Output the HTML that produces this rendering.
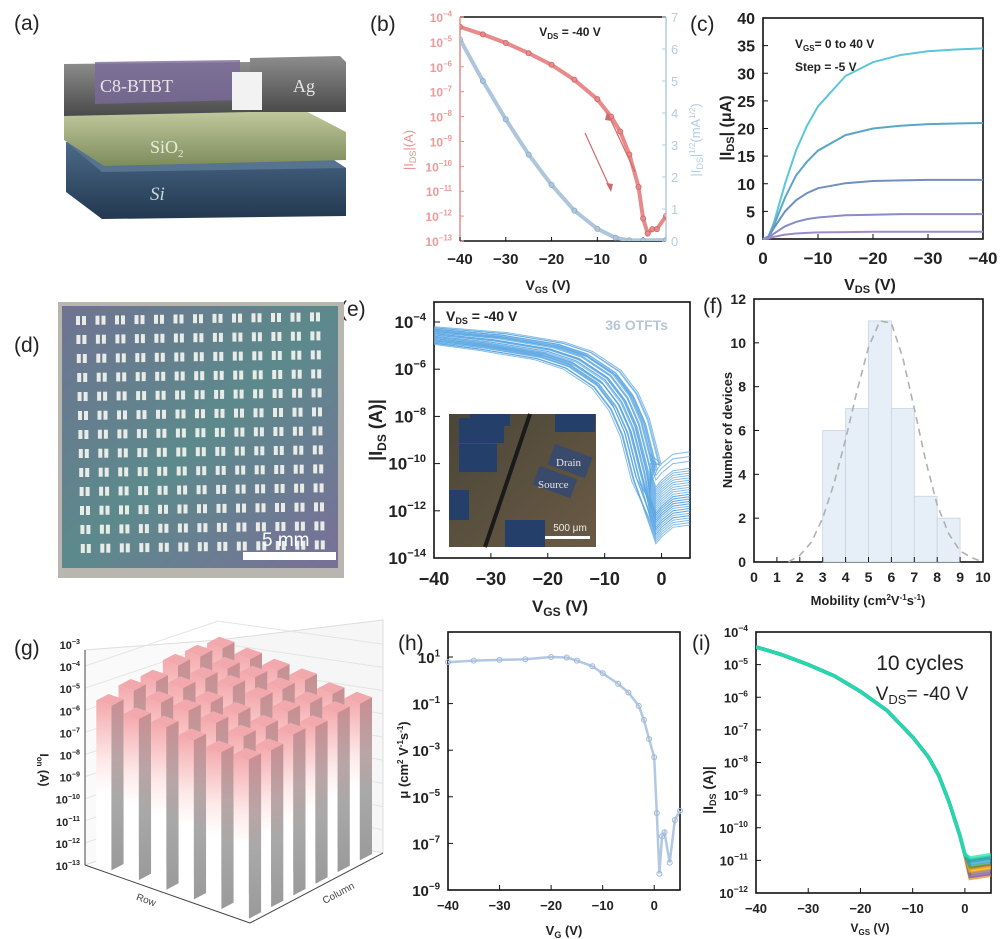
<!DOCTYPE html>
<html><head><meta charset="utf-8">
<style>
html,body{margin:0;padding:0;background:#fff;}
svg{display:block;font-family:"Liberation Sans",Arial,sans-serif;}
</style></head>
<body>
<svg id="fig" width="1000" height="939" viewBox="0 0 1000 939" xmlns="http://www.w3.org/2000/svg">
<defs>
<linearGradient id="siG" x1="0" y1="0" x2="0" y2="1"><stop offset="0" stop-color="#4d6d8c"/><stop offset="1" stop-color="#23384f"/></linearGradient>
<linearGradient id="oxG" x1="0" y1="0" x2="0" y2="1"><stop offset="0" stop-color="#c4cca0"/><stop offset="1" stop-color="#7e8c5c"/></linearGradient>
<linearGradient id="agG" x1="0" y1="0" x2="0" y2="1"><stop offset="0" stop-color="#8d8d8d"/><stop offset="1" stop-color="#4a4a4a"/></linearGradient>
<linearGradient id="photoG" x1="0" y1="0" x2="1" y2="1"><stop offset="0" stop-color="#6f7391"/><stop offset="0.5" stop-color="#5c8a8c"/><stop offset="1" stop-color="#7a6f98"/></linearGradient>
<linearGradient id="barF" x1="0" y1="0" x2="0" y2="1"><stop offset="0" stop-color="#f4a8ac"/><stop offset="0.35" stop-color="#fde8e8"/><stop offset="0.55" stop-color="#ffffff"/><stop offset="1" stop-color="#ffffff"/></linearGradient>
<linearGradient id="barS" x1="0" y1="0" x2="0" y2="1"><stop offset="0" stop-color="#c98e92"/><stop offset="0.35" stop-color="#b9a5a6"/><stop offset="0.6" stop-color="#a8a8a8"/><stop offset="1" stop-color="#9a9a9a"/></linearGradient>
<linearGradient id="insetG" x1="0" y1="0" x2="1" y2="1"><stop offset="0" stop-color="#4a4638"/><stop offset="1" stop-color="#6a5a44"/></linearGradient>
<clipPath id="eClip"><rect x="434" y="302" width="256" height="256"/></clipPath>
<clipPath id="iClip"><rect x="756" y="632" width="235" height="261"/></clipPath>
<clipPath id="bClip"><rect x="460" y="17" width="206" height="224"/></clipPath>
</defs>

<!-- panel labels -->
<g font-size="21" fill="#222">
<text x="14" y="30">(a)</text>
<text x="370" y="31">(b)</text>
<text x="690" y="31">(c)</text>
<text x="14" y="352">(d)</text>
<text x="340" y="316">(e)</text>
<text x="703" y="313">(f)</text>
<text x="14" y="655">(g)</text>
<text x="398" y="650">(h)</text>
<text x="692" y="650">(i)</text>
</g>

<!-- (a) device schematic -->
<g>
<polygon points="66,142 300,138 346,168 346,216 102,219 66,192" fill="url(#siG)"/>
<polygon points="66,142 300,138 346,168 102,172" fill="#56738f"/>
<text x="150" y="200" font-family="Liberation Serif,serif" font-style="italic" font-size="19" fill="#c8d4e0">Si</text>
<polygon points="64,112 300,108 346,132 346,160 104,166 64,140" fill="url(#oxG)"/>
<text x="150" y="153" font-family="Liberation Serif,serif" font-size="18" fill="#e8ecd8">SiO<tspan font-size="11" dy="4">2</tspan></text>
<polygon points="64,64 250,62 250,112 64,116" fill="url(#agG)"/>
<polygon points="95,62 240,60 240,100 95,104" fill="#7a6a9a" opacity="0.8"/>
<text x="100" y="92" font-family="Liberation Serif,serif" font-size="18" fill="#e6e6e6">C8-BTBT</text>
<polygon points="250,58 340,56 346,62 346,112 250,112" fill="url(#agG)"/>
<polygon points="232,72 262,72 262,110 232,110" fill="#f2f2f2"/>
<text x="293" y="92" font-family="Liberation Serif,serif" font-size="18" fill="#e6e6e6">Ag</text>
</g>

<!-- (d) photo -->
<g>
<rect x="58" y="302" width="286" height="276" fill="#b8b6ae"/>
<rect x="62" y="306" width="276" height="262" fill="url(#photoG)"/>
<g id="dgrid" fill="#e8ebe6"></g>
<rect x="243" y="552" width="93" height="8" fill="#fff"/>
<text x="262" y="546" font-size="19" fill="#fff">5 mm</text>
</g>

<!-- (g) 3D bars -->
<g id="gpanel"></g>

<g id="charts"></g>
</svg>

<script>
// ---------- data ----------
// (b) transfer
const bVgs = [-40,-35,-30,-25,-20,-15,-10,-7,-5,-3,-1,0,1,2,3,5];
const bIds = [4e-5,2e-5,9e-6,3.5e-6,1.2e-6,3e-7,5e-8,1e-8,2.5e-9,3e-10,1.5e-11,8e-13,2e-13,3e-13,3e-13,1e-12];
const bSqrtVgs = [-40,-35,-30,-25,-20,-15,-10,-6,-3,0,5];
const bSqrt = [6.3,5.0,3.8,2.7,1.75,0.95,0.38,0.1,0.02,0.02,0.03];
// (c) output
const cVds = [0,-1,-2,-4,-6,-8,-10,-15,-20,-25,-30,-35,-40];
const cIds1 = [0,0.5,3,10,16,20.5,24,29.5,32,33.3,34,34.3,34.5];
const cIds2 = [0,0.4,2.5,7.5,11.5,14,16,18.8,20,20.5,20.8,20.9,21];
const cIds3 = [0,0.3,2,5,7,8.3,9.2,10.1,10.5,10.6,10.7,10.7,10.7];
const cIds4 = [0,0.2,1,2.3,3.1,3.6,3.9,4.3,4.4,4.5,4.5,4.5,4.5];
const cIds5 = [0,0.1,0.4,0.8,1,1.1,1.2,1.25,1.3,1.3,1.3,1.3,1.3];
// (e) 36 devices: base curve (log10 A) + per-device shifts
const eVgs = [-40,-30,-20,-15,-10,-7,-5,-3,-2,-1,0,2,5];
const eLogBase = [-4.6,-4.85,-5.25,-5.65,-6.45,-7.4,-8.5,-10.4,-11.8,-12.5,-12.2,-11.8,-11.7];
const eVthShift = [0,1,-1,2,-2,0.5,-0.5,1.5,-1.5,2.5,3,-2.5,0.8,-0.8,1.2,-1.2,2.2,-2.2,0.3,-0.3,1.8,-1.8,2.8,0.1,-0.1,1.1,-1.1,2.1,-2.1,0.6,-0.6,1.6,-1.6,3.2,0.4,-0.4];
const eOnShift = [0,0.2,-0.2,0.3,-0.3,0.1,-0.1,0.25,-0.25,0.15,0.35,-0.35,0.05,-0.05,0.2,-0.15,0.3,-0.3,0.1,-0.2,0.25,-0.1,0.35,0,-0.05,0.15,-0.25,0.2,-0.3,0.1,-0.1,0.3,-0.2,0.4,0.05,-0.15];
const eOffShift = [0,0.8,-0.5,1.2,-0.8,0.4,-0.3,1.5,0.2,0.9,1.8,-0.6,0.3,-0.2,0.6,0.1,1.1,-0.7,0.5,0,1.3,-0.4,2,0.2,-0.1,0.7,-0.5,1,-0.9,0.4,0.1,1.4,-0.3,2.2,0.3,-0.2];
// (f) histogram
const fBinStart = [3,4,5,6,7,8];
const fCounts = [6,7,11,7,3,2];
const fFitX = [1.5,2,2.5,3,3.5,4,4.5,5,5.5,6,6.5,7,7.5,8,8.5,9,9.5,10];
const fFitY = [0,0.3,0.9,2,3.6,5.6,7.8,9.8,11,10.9,9.3,7,4.6,2.6,1.3,0.5,0.2,0];
// (g) Ion per device (6x6)
const gIon = [
 8e-5,1.2e-4,9e-5,1.5e-4,1.1e-4,7e-5,
 5e-5,9e-5,1.3e-4,1.0e-4,8e-5,6e-5,
 6e-5,1.1e-4,7e-5,1.2e-4,9e-5,5e-5,
 4e-5,8e-5,6e-5,9e-5,7e-5,5e-5,
 3e-5,5e-5,4e-5,6e-5,4e-5,3e-5,
 4e-5,3e-5,5e-5,3e-5,4e-5,3e-5];
// (h) mobility
const hVg = [-40,-35,-30,-25,-20,-17,-15,-12,-10,-7,-5,-3,-2,-1,0,0.5,1,1.5,2,3,4,5];
const hMu = [6,7,7.5,8,10,9.5,7,4,2,0.7,0.3,0.08,0.02,0.003,0.0005,2e-6,5e-9,2e-7,3e-7,1.5e-8,1e-6,2.5e-6];
// (i) 10 cycles
const iVgs = [-40,-35,-30,-25,-20,-15,-10,-7,-5,-3,-1,0];
const iIds = [3.5e-5,2e-5,1e-5,4.5e-6,1.5e-6,4e-7,6e-8,1.5e-8,4e-9,6e-10,6e-11,1.5e-11];
const iOffEnd = [3.5e-12,7e-12,4e-12,5e-12,6e-12,8e-12,1e-11,1.3e-11,1.2e-11,1.5e-11];
const iColors = ["#e8902a","#e53935","#7e57c2","#8d6e63","#f4b400","#43a047","#2a9df4","#6d8a9a","#26a69a","#1de9b6"];

// ---------- helpers ----------
const NS = "http://www.w3.org/2000/svg";
const root = document.getElementById('charts');
function mk(tag, attrs, parent){
  const e = document.createElementNS(NS, tag);
  for (const k in attrs) e.setAttribute(k, attrs[k]);
  (parent||root).appendChild(e); return e;
}
function txt(x,y,s,size,anchor,fill,weight,parent){
  const t = mk('text',{x:x,y:y,'font-size':size,'text-anchor':anchor||'middle',fill:fill||'#222','font-weight':weight||'bold'},parent);
  t.textContent = s; return t;
}
function pow10(x,y,exp,size,anchor,fill,parent){
  const t = mk('text',{x:x,y:y,'font-size':size,'text-anchor':anchor||'end',fill:fill||'#222','font-weight':'bold'},parent);
  t.appendChild(document.createTextNode('10'));
  const s = document.createElementNS(NS,'tspan');
  s.setAttribute('dy', -size*0.45); s.setAttribute('font-size', size*0.65);
  s.textContent = String(exp).replace('-','\u2212');
  t.appendChild(s); return t;
}
function lin(d0,d1,p0,p1){ return v => p0 + (v-d0)*(p1-p0)/(d1-d0); }
function logS(e0,e1,p0,p1){ return v => p0 + (Math.log10(v)-e0)*(p1-p0)/(e1-e0); }
function pathD(xs,ys,fx,fy){ return xs.map((v,i)=>(i?'L':'M')+fx(v).toFixed(1)+','+fy(ys[i]).toFixed(1)).join(''); }
function frame(x0,y0,x1,y1,name){
  const r = mk('rect',{x:x0,y:y0,width:x1-x0,height:y1-y0,fill:'none',stroke:'#111','stroke-width':1.6});
  
  
}
function minus(v){ return String(v).replace('-','\u2212'); }

// ---------- (d) grid ----------
(function(){
  const g = document.getElementById('dgrid');
  for(let r=0;r<13;r++) for(let c=0;c<13;c++){
    const x = 76 + c*19.5 + r*0.4, y = 316 + r*19 - c*0.3;
    mk('rect',{x:x,y:y,width:4,height:9},g);
    mk('rect',{x:x+6,y:y,width:4,height:9},g);
  }
})();

// ---------- (b) ----------
(function(){
  const X0=460,X1=666,Y0=17,Y1=241;
  const fx = lin(-40,5,460,666), fy = logS(-13,-4,241,17), fy2 = lin(0,7,241,17);
  mk('line',{x1:X0,y1:Y0,x2:X1,y2:Y0,stroke:'#111','stroke-width':1.5});
  mk('line',{x1:X0,y1:Y1,x2:X1,y2:Y1,stroke:'#111','stroke-width':1.5});
  mk('line',{x1:X0,y1:Y0,x2:X0,y2:Y1,stroke:'#e88a8a','stroke-width':1.5});
  mk('line',{x1:X1,y1:Y0,x2:X1,y2:Y1,stroke:'#b4cbe0','stroke-width':1.5});
  for(let e=-13;e<=-4;e++){ pow10(452,fy(Math.pow(10,e))+5,e,12,'end','#eb9a9a');
    mk('line',{x1:X0,y1:fy(Math.pow(10,e)),x2:X0+4,y2:fy(Math.pow(10,e)),stroke:'#e88a8a'}); }
  for(let v=0;v<=7;v++){ txt(671,fy2(v)+5,String(v),13,'start','#b4cbe0','normal');
    mk('line',{x1:X1,y1:fy2(v),x2:X1-4,y2:fy2(v),stroke:'#b4cbe0'}); }
  [-40,-30,-20,-10,0].forEach(v=>{ txt(fx(v),264,minus(v),15,'middle'); mk('line',{x1:fx(v),y1:Y1,x2:fx(v),y2:Y1-4,stroke:'#111'}); });
  const t=txt(548,290,'',14); t.innerHTML='V<tspan font-size="9" dy="3">GS</tspan><tspan dy="-3"> (V)</tspan>';
  const vt=txt(570,36,'',12); vt.innerHTML='V<tspan font-size="8" dy="3">DS</tspan><tspan dy="-3"> = -40 V</tspan>';
  const yl = txt(0,0,'',13,'middle','#eb8f8f','normal'); yl.setAttribute('transform','translate(413,150) rotate(-90)');
  yl.innerHTML='|I<tspan font-size="9" dy="3">DS</tspan><tspan dy="-3">|(A)</tspan>';
  const yr = txt(0,0,'',13,'middle','#b4cbe0','normal'); yr.setAttribute('transform','translate(700,140) rotate(-90)');
  yr.innerHTML='|I<tspan font-size="9" dy="3">DS</tspan><tspan dy="-3">|</tspan><tspan font-size="8" dy="-5">1/2</tspan><tspan dy="5">(mA</tspan><tspan font-size="8" dy="-5">1/2</tspan><tspan dy="5">)</tspan>';
  const g = mk('g',{'clip-path':'url(#bClip)'});
  const pr = mk('path',{d:pathD(bVgs,bIds,fx,fy),fill:'none',stroke:'#e88a8a','stroke-width':4},g);
   
  const pb = mk('path',{d:pathD(bSqrtVgs,bSqrt,fx,fy2),fill:'none',stroke:'#aec6dc','stroke-width':4},g);
   
  bVgs.forEach((v,i)=>mk('circle',{cx:fx(v),cy:fy(bIds[i]),r:2.5,fill:'none',stroke:'#d06a6a','stroke-width':1},g));
  bSqrtVgs.forEach((v,i)=>mk('circle',{cx:fx(v),cy:fy2(bSqrt[i]),r:2.5,fill:'none',stroke:'#8fb0cc','stroke-width':1},g));
  mk('line',{x1:585,y1:133,x2:611,y2:190,stroke:'#d06a6a','stroke-width':1.2});
  mk('polygon',{points:'611,192 606,183 613,184',fill:'#d06a6a'});
  mk('line',{x1:635,y1:172,x2:608,y2:114,stroke:'#d06a6a','stroke-width':1.2});
  mk('polygon',{points:'607,112 612,121 605,120',fill:'#d06a6a'});
})();

// ---------- (c) ----------
(function(){
  const fx = lin(0,-40,763,983), fy = lin(0,40,239,18);
  frame(763,18,983,239,'output-plot-frame');
  for(let v=0;v<=40;v+=5){ txt(755,fy(v)+6,String(v),16,'end'); mk('line',{x1:763,y1:fy(v),x2:768,y2:fy(v),stroke:'#111'}); }
  [0,-10,-20,-30,-40].forEach(v=>{ txt(fx(v),264,minus(v),17); mk('line',{x1:fx(v),y1:239,x2:fx(v),y2:234,stroke:'#111'}); });
  const t=txt(870,290,'',16); t.innerHTML='V<tspan font-size="11" dy="3">DS</tspan><tspan dy="-3"> (V)</tspan>';
  const yl=txt(0,0,'',16); yl.setAttribute('transform','translate(731,128) rotate(-90)');
  yl.innerHTML='|I<tspan font-size="11" dy="3">DS</tspan><tspan dy="-3">| (μA)</tspan>';
  const a=txt(795,48,'',12,'start'); a.innerHTML='V<tspan font-size="8" dy="3">GS</tspan><tspan dy="-3">= 0 to 40 V</tspan>';
  txt(795,71,'Step = -5 V',12,'start');
  const series=[cIds1,cIds2,cIds3,cIds4,cIds5], cols=['#5cc6d8','#5aa6c6','#6f90bf','#8a8cc8','#9c8cc6'];
  series.forEach((s,i)=>{ const p=mk('path',{d:pathD(cVds,s,fx,fy),fill:'none',stroke:cols[i],'stroke-width':2});
      });
})();

// ---------- (e) ----------
(function(){
  const fx = lin(-40,5,434,690), fy = v => 558 + (v+14)*(322-558)/10;
  frame(434,302,690,558,'transfer-36-frame');
  for(let e=-14;e<=-4;e+=2){ pow10(426,fy(e)+6,e,17,'end'); mk('line',{x1:434,y1:fy(e),x2:440,y2:fy(e),stroke:'#111'}); }
  [-40,-30,-20,-10,0].forEach(v=>{ txt(fx(v),585,minus(v),18); mk('line',{x1:fx(v),y1:558,x2:fx(v),y2:553,stroke:'#111'}); });
  const t=txt(560,612,'',17); t.innerHTML='V<tspan font-size="12" dy="4">GS</tspan><tspan dy="-4"> (V)</tspan>';
  const yl=txt(0,0,'',18); yl.setAttribute('transform','translate(382,430) rotate(-90)');
  yl.innerHTML='|I<tspan font-size="12" dy="4">DS</tspan><tspan dy="-4"> (A)|</tspan>';
  const vt=txt(446,321,'',14,'start'); vt.innerHTML='V<tspan font-size="9" dy="3">DS</tspan><tspan dy="-3"> = -40 V</tspan>';
  txt(668,330,'36 OTFTs',14,'end','#b8c6d4');
  const g0 = mk('g',{'clip-path':'url(#eClip)'});
  eVthShift.forEach((sh,k)=>{
    const xs = eVgs.map(v=>(v<=-3 && v>-40)? v+sh*0.9 : v);
    const ys = eLogBase.map((y,j)=> eVgs[j]<=-3 ? y+eOnShift[k] : y+eOffShift[k]);
    const p=mk('path',{d:pathD(xs,ys,fx,fy),fill:'none',stroke:'#5aa6e2','stroke-width':1,opacity:0.75},g0);
     
  });
  // inset
  const g=mk('g',{});
   
  mk('rect',{x:449,y:414,width:147,height:133,fill:'url(#insetG)'},g);
  [[459,418,45,25],[459,444,38,28],[449,490,20,30],[505,520,40,27],[470,414,40,12],[555,414,40,18]].forEach(r=>mk('rect',{x:r[0],y:r[1],width:r[2],height:r[3],fill:'#24406a'},g));
  mk('rect',{x:550,y:450,width:40,height:22,fill:'#3a4a6a',transform:'rotate(20 570 461)'},g);
  mk('rect',{x:535,y:472,width:40,height:20,fill:'#3a4a6a',transform:'rotate(20 555 482)'},g);
  mk('line',{x1:530,y1:414,x2:485,y2:547,stroke:'#1a1a1a','stroke-width':4},g);
  txt(556,466,'Drain',11,'start','#e4e4e4','normal',g).setAttribute('font-family','Liberation Serif,serif');
  txt(538,488,'Source',11,'start','#e4e4e4','normal',g).setAttribute('font-family','Liberation Serif,serif');
  txt(570,531,'500 μm',10,'middle','#eee','normal',g);
  mk('rect',{x:545,y:536,width:45,height:3,fill:'#fff'},g);
})();

// ---------- (f) ----------
(function(){
  const fx = lin(0,10,754,983), fy = lin(0,12,562,299);
  frame(754,299,983,562,'histogram-frame');
  fBinStart.forEach((b,i)=>{ const r=mk('rect',{x:fx(b),y:fy(fCounts[i]),width:fx(b+1)-fx(b),height:562-fy(fCounts[i]),fill:'#e6eef8',stroke:'#c8d4e2','stroke-width':0.8});
      });
  const p=mk('path',{d:pathD(fFitX,fFitY,fx,fy),fill:'none',stroke:'#b0b0b0','stroke-width':1.6,'stroke-dasharray':'7,5'});
   
  for(let v=0;v<=10;v++){ txt(fx(v),582,String(v),14); mk('line',{x1:fx(v),y1:562,x2:fx(v),y2:557,stroke:'#111'}); }
  for(let v=0;v<=12;v+=2){ txt(746,fy(v)+5,String(v),14,'end'); mk('line',{x1:754,y1:fy(v),x2:759,y2:fy(v),stroke:'#111'}); }
  const yl=txt(0,0,'Number of devices',13); yl.setAttribute('transform','translate(732,430) rotate(-90)');
  const xl=txt(868,605,'',13); xl.innerHTML='Mobility (cm<tspan font-size="8" dy="-5">2</tspan><tspan dy="5">V</tspan><tspan font-size="8" dy="-5">-1</tspan><tspan dy="5">s</tspan><tspan font-size="8" dy="-5">-1</tspan><tspan dy="5">)</tspan>';
})();

// ---------- (g) ----------
(function(){
  const g=document.getElementById('gpanel');
  const front=[250,923], left=[85,865], right=[383,853];
  const dpx = 22.1; // axis px per decade
  const bpx = 18.5; // bar px per decade (perspective)
  mk('polygon',{points:'85,865 85,650 218,640 218,820',fill:'#fafafa',stroke:'#ddd'},g);
  mk('polygon',{points:'218,640 383,620 383,853 218,820',fill:'#f6f6f6',stroke:'#ddd'},g);
  for(let k=1;k<10;k++){ mk('line',{x1:85,y1:865-k*dpx,x2:218,y2:820-k*dpx,stroke:'#e4e4e4'},g); mk('line',{x1:218,y1:820-k*dpx,x2:383,y2:853-k*dpx*1.05,stroke:'#e4e4e4'},g); }
  mk('line',{x1:85,y1:865,x2:250,y2:923,stroke:'#444'},g);
  mk('line',{x1:250,y1:923,x2:383,y2:853,stroke:'#444'},g);
  mk('line',{x1:85,y1:650,x2:85,y2:865,stroke:'#444'},g);
  for(let e=-13;e<=-3;e++){ pow10(80,865-(e+13)*dpx+5,e,11,'end','#222',g); }
  const yl=txt(0,0,'',12,'middle','#222','bold',g); yl.setAttribute('transform','translate(40,770) rotate(90)');
  yl.innerHTML='I<tspan font-size="8" dy="3">on</tspan><tspan dy="-3"> (A)</tspan>';
  const rl=txt(0,0,'Row',10,'middle','#444','normal',g); rl.setAttribute('transform','translate(145,903) rotate(20)');
  const cl=txt(0,0,'Column',10,'middle','#444','normal',g); cl.setAttribute('transform','translate(340,896) rotate(-28)');
  const L=[(left[0]-front[0])/6,(left[1]-front[1])/6], R=[(right[0]-front[0])/6,(right[1]-front[1])/6];
  for(let r=0;r<6;r++) for(let c=5;c>=0;c--){
    const rr = 5-r;
    const bx = front[0] + (rr+0.2)*L[0] + (c+0.2)*R[0];
    const by = front[1] + (rr+0.2)*L[1] + (c+0.2)*R[1];
    const v = gIon[r*6+c];
    const h = (Math.log10(v)+13)*bpx;
    const w1=[L[0]*0.55,L[1]*0.55], w2=[R[0]*0.55,R[1]*0.55];
    const p0=[bx,by], p1=[bx+w1[0],by+w1[1]], p2=[bx+w2[0],by+w2[1]], p3=[bx+w1[0]+w2[0],by+w1[1]+w2[1]];
    const P=(p,dh)=>p[0].toFixed(1)+','+(p[1]-dh).toFixed(1);
    const f1=mk('polygon',{points:[P(p1,0),P(p0,0),P(p0,h),P(p1,h)].join(' '),fill:'url(#barF)'},g);
     
    mk('polygon',{points:[P(p0,0),P(p2,0),P(p2,h),P(p0,h)].join(' '),fill:'url(#barS)'},g);
    mk('polygon',{points:[P(p0,h),P(p1,h),P(p3,h),P(p2,h)].join(' '),fill:'#f2a9ad'},g);
  }
})();

// ---------- (h) ----------
(function(){
  const fx = lin(-40,5,448,680), fy = v => 890 + (Math.log10(v)+9)*(657-890)/10;
  frame(448,632,680,890,'mobility-frame');
  for(let e=-9;e<=1;e+=2){ pow10(440,fy(Math.pow(10,e))+6,e,15,'end'); mk('line',{x1:448,y1:fy(Math.pow(10,e)),x2:453,y2:fy(Math.pow(10,e)),stroke:'#111'}); }
  [-40,-30,-20,-10,0].forEach(v=>{ txt(fx(v),910,minus(v),13); mk('line',{x1:fx(v),y1:890,x2:fx(v),y2:885,stroke:'#111'}); });
  const t=txt(564,935,'',13); t.innerHTML='V<tspan font-size="9" dy="3">G</tspan><tspan dy="-3"> (V)</tspan>';
  const yl=txt(0,0,'',13); yl.setAttribute('transform','translate(408,760) rotate(-90)');
  yl.innerHTML='μ (cm<tspan font-size="8" dy="-5">2</tspan><tspan dy="5"> V</tspan><tspan font-size="8" dy="-5">-1</tspan><tspan dy="5">s</tspan><tspan font-size="8" dy="-5">-1</tspan><tspan dy="5">)</tspan>';
  const p=mk('path',{d:pathD(hVg,hMu,fx,fy),fill:'none',stroke:'#b2c8e2','stroke-width':2.5});
   
  hVg.forEach((v,i)=>mk('circle',{cx:fx(v),cy:fy(hMu[i]),r:2.5,fill:'none',stroke:'#9fb8d6','stroke-width':1}));
})();

// ---------- (i) ----------
(function(){
  const fx = lin(-40,5,756,991), fy = v => 893 + (Math.log10(v)+12)*(632-893)/8;
  frame(756,632,991,893,'cycles-frame');
  for(let e=-12;e<=-4;e++){ pow10(748,fy(Math.pow(10,e))+5,e,13,'end'); mk('line',{x1:756,y1:fy(Math.pow(10,e)),x2:761,y2:fy(Math.pow(10,e)),stroke:'#111'}); }
  [-40,-30,-20,-10,0].forEach(v=>{ txt(fx(v),913,minus(v),13); mk('line',{x1:fx(v),y1:893,x2:fx(v),y2:888,stroke:'#111'}); });
  const t=txt(870,932,'',12); t.innerHTML='V<tspan font-size="8" dy="3">GS</tspan><tspan dy="-3"> (V)</tspan>';
  const yl=txt(0,0,'',14); yl.setAttribute('transform','translate(713,790) rotate(-90)');
  yl.innerHTML='|I<tspan font-size="9" dy="3">DS</tspan><tspan dy="-3"> (A)|</tspan>';
  txt(920,670,'10 cycles',21,'middle','#222','normal');
  const vt=txt(922,700,'',19,'middle','#222','normal'); vt.innerHTML='V<tspan font-size="13" dy="4">DS</tspan><tspan dy="-4">= -40 V</tspan>';
  const g0 = mk('g',{'clip-path':'url(#iClip)'});
  iColors.forEach((col,k)=>{
    const xs=iVgs.concat([1,5]), ys=iIds.concat([iOffEnd[k]*0.8,iOffEnd[k]]);
    const p=mk('path',{d:pathD(xs,ys,fx,fy),fill:'none',stroke:col,'stroke-width':3.5,opacity:0.75},g0);
     
  });
})();
</script>
</body></html>
